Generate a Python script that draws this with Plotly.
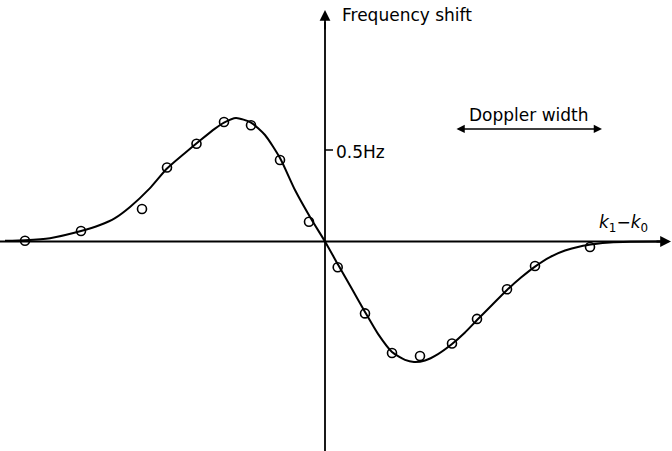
import plotly.graph_objects as go

# Measured points (arbitrary wavenumber units, Hz)
x_pts = [-3.00, -2.44, -1.83, -1.58, -1.285, -1.01, -0.74, -0.45, -0.16,
         0.127, 0.40, 0.67, 0.95, 1.27, 1.52, 1.82, 2.10, 2.65]
y_pts = [0.004, 0.057, 0.178, 0.404, 0.534, 0.653, 0.635, 0.445, 0.108,
         -0.141, -0.393, -0.609, -0.626, -0.557, -0.423, -0.261, -0.134, -0.030]

# Theoretical curve
x_curve = [-3.20, -3.00, -2.75, -2.44, -2.25, -2.10, -1.95, -1.75, -1.58, -1.40,
           -1.25, -1.10, -1.01, -0.89, -0.74, -0.60, -0.45, -0.30, -0.15, 0.0,
           0.13, 0.27, 0.40, 0.53, 0.67, 0.80, 0.89, 1.00, 1.13, 1.27,
           1.40, 1.52, 1.67, 1.82, 1.96, 2.10, 2.25, 2.40, 2.55, 2.70,
           2.85, 3.05, 3.35]
y_curve = [0.004, 0.007, 0.018, 0.057, 0.090, 0.128, 0.189, 0.292, 0.399, 0.484,
           0.552, 0.617, 0.650, 0.675, 0.650, 0.582, 0.456, 0.281, 0.134, 0.0,
           -0.126, -0.260, -0.385, -0.505, -0.604, -0.647, -0.658, -0.650, -0.615, -0.560,
           -0.497, -0.429, -0.347, -0.265, -0.197, -0.137, -0.085, -0.049, -0.027, -0.014,
           -0.006, -0.002, 0.0]

X_RANGE = [-3.25, 3.47]
Y_RANGE = [-1.1448, 1.3197]
TICK_Y = 0.5

fig = go.Figure()

fig.add_trace(go.Scatter(x=x_curve, y=y_curve, mode="lines",
                         line=dict(color="black", width=2, shape="spline", smoothing=0.6),
                         hoverinfo="skip", showlegend=False))
fig.add_trace(go.Scatter(x=x_pts, y=y_pts, mode="markers",
                         marker=dict(symbol="circle-open", size=9, color="black",
                                     line=dict(width=1.6, color="black")),
                         showlegend=False))

# axes
fig.add_shape(type="line", x0=X_RANGE[0], x1=3.40, y0=0, y1=0,
              line=dict(color="black", width=1.8))
fig.add_shape(type="line", x0=0, x1=0, y0=Y_RANGE[0], y1=1.20,
              line=dict(color="black", width=1.8))
fig.add_annotation(x=3.46, y=0, ax=3.30, ay=0, xref="x", yref="y", axref="x", ayref="y",
                   showarrow=True, arrowhead=2, arrowsize=1.2, arrowwidth=1.8,
                   arrowcolor="black", text="")
fig.add_annotation(x=0, y=1.265, ax=0, ay=1.15, xref="x", yref="y", axref="x", ayref="y",
                   showarrow=True, arrowhead=2, arrowsize=1.2, arrowwidth=1.8,
                   arrowcolor="black", text="")
# tick at 0.5 Hz
fig.add_shape(type="line", x0=0, x1=0.08, y0=TICK_Y, y1=TICK_Y,
              line=dict(color="black", width=1.5))

font = dict(family="DejaVu Sans", size=17, color="black")
fig.add_annotation(x=0.08, y=TICK_Y, text="0.5Hz", showarrow=False, xanchor="left",
                   yanchor="middle", font=font, xshift=1, yshift=-2)
fig.add_annotation(x=0.15, y=1.238, text="Frequency shift", showarrow=False,
                   xanchor="left", yanchor="middle", font=font)
fig.add_annotation(x=2.98, y=0.101, text="<i>k</i><sub>1</sub>\u2212<i>k</i><sub>0</sub>",
                   showarrow=False, xanchor="center", yanchor="middle", font=font)

# Doppler width arrow
fig.add_annotation(x=2.04, y=0.691, text="Doppler width", showarrow=False,
                   xanchor="center", yanchor="middle", font=font)
fig.add_annotation(x=2.77, y=0.615, ax=1.30, ay=0.615,
                   xref="x", yref="y", axref="x", ayref="y",
                   showarrow=True, arrowhead=2, startarrowhead=2, arrowside="end+start",
                   arrowsize=1.1, arrowwidth=1.5, arrowcolor="black", text="")

fig.update_layout(width=672, height=451, margin=dict(l=0, r=0, t=0, b=0),
                  paper_bgcolor="white", plot_bgcolor="white",
                  xaxis=dict(range=X_RANGE, visible=False, fixedrange=True),
                  yaxis=dict(range=Y_RANGE, visible=False, fixedrange=True),
                  showlegend=False)

fig.write_html("out.html", config={"displayModeBar": False, "staticPlot": True},
               post_script="document.body.style.margin='0px';document.body.style.overflow='hidden';")
